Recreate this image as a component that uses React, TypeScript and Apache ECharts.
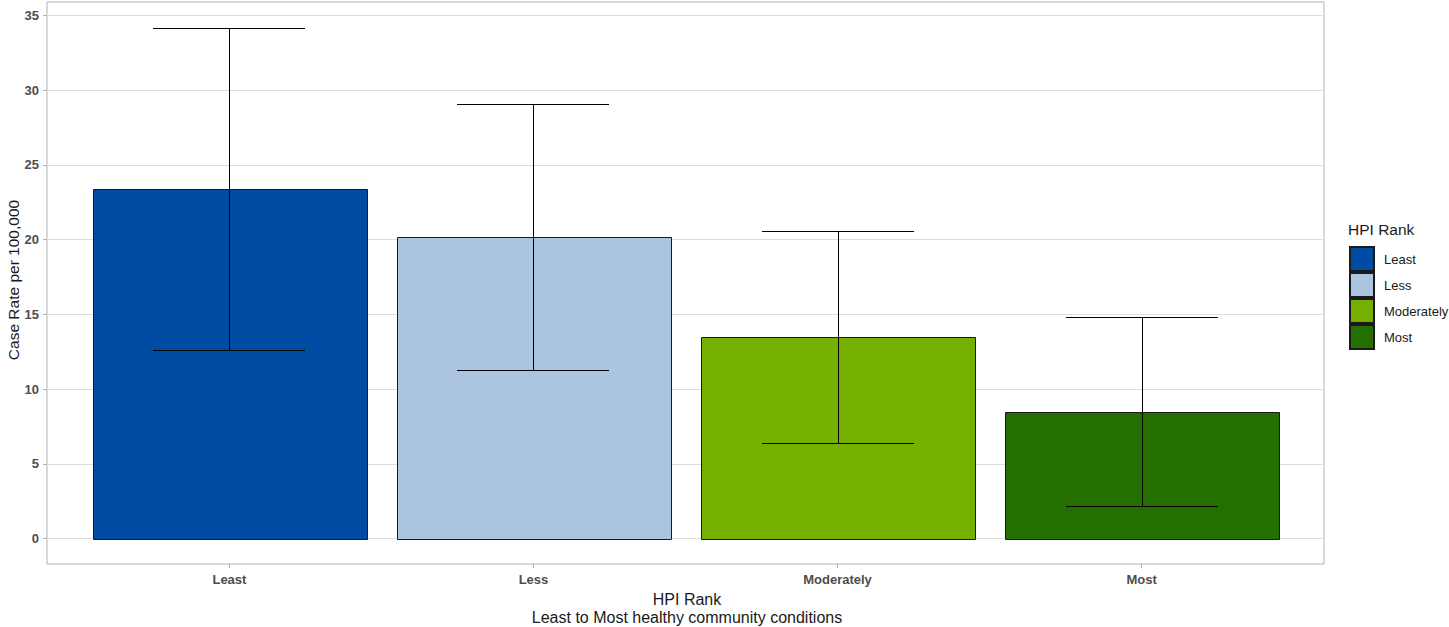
import React, { useEffect, useRef } from "react";
import * as echarts from "echarts";

const categories = ["Least", "Less", "Moderately", "Most"];
const caseRate = [23.4, 20.2, 13.5, 8.5];
const lowerCI = [12.6, 11.3, 6.4, 2.2];
const upperCI = [34.15, 29.05, 20.6, 14.8];
const colors = ["#004BA3", "#ABC5E0", "#75B000", "#237000"];
const yTicks = [0, 5, 10, 15, 20, 25, 30, 35];
const xTicks = [1, 2, 3, 4];

const FONT = "Liberation Sans, Arial, sans-serif";

export default function App() {
  const ref = useRef<HTMLDivElement>(null);
  useEffect(() => {
    if (!ref.current) return;
    const chart = echarts.init(ref.current, null, { renderer: "svg" });
    const series = categories.map((name, i) => ({
      type: "custom",
      name,
      itemStyle: { color: colors[i], borderColor: "#1a1a1a", borderWidth: 1 },
      encode: { x: 0, y: 1 },
      data: [[i + 1, caseRate[i], lowerCI[i], upperCI[i]]],
      renderItem: (params: any, api: any) => {
        const x = api.value(0);
        const v = api.value(1);
        const lo = api.value(2);
        const hi = api.value(3);
        const base = api.coord([x, 0]);
        const top = api.coord([x, v]);
        const pLo = api.coord([x, lo]);
        const pHi = api.coord([x, hi]);
        const bw = api.size([0.9, 0])[0];
        const cw = api.size([0.5, 0])[0];
        const cx = Math.round(base[0]) + 0.5;
        return {
          type: "group",
          children: [
            {
              type: "rect",
              shape: { x: Math.round(base[0] - bw / 2) + 0.5, y: Math.round(top[1]) + 0.5, width: Math.round(bw), height: Math.round(base[1]) - Math.round(top[1]) },
              style: { fill: colors[i], stroke: "#1a1a1a", lineWidth: 1 },
            },
            {
              type: "line",
              shape: { x1: cx, y1: Math.round(pLo[1]) + 0.5, x2: cx, y2: Math.round(pHi[1]) + 0.5 },
              style: { stroke: "#000", lineWidth: 1 },
            },
            {
              type: "line",
              shape: { x1: Math.round(base[0] - cw / 2), y1: Math.round(pLo[1]) + 0.5, x2: Math.round(base[0] + cw / 2), y2: Math.round(pLo[1]) + 0.5 },
              style: { stroke: "#000", lineWidth: 1 },
            },
            {
              type: "line",
              shape: { x1: Math.round(base[0] - cw / 2), y1: Math.round(pHi[1]) + 0.5, x2: Math.round(base[0] + cw / 2), y2: Math.round(pHi[1]) + 0.5 },
              style: { stroke: "#000", lineWidth: 1 },
            },
          ],
        };
      },
    }));
    chart.setOption({
      animation: false,
      backgroundColor: "#ffffff",
      textStyle: { fontFamily: FONT },
      grid: {
        left: 47,
        top: 2,
        width: 1277,
        height: 562,
        show: true,
        borderColor: "#b3b3b3",
        borderWidth: 1,
        backgroundColor: "transparent",
      },
      xAxis: {
        type: "value",
        position: "bottom",
        min: 0.4,
        max: 4.6,
        axisLine: { show: false, onZero: false },
        splitLine: { show: false },
        axisTick: { show: true, inside: false, length: 4, lineStyle: { color: "#b3b3b3", width: 1 }, customValues: xTicks },
        axisLabel: {
          customValues: xTicks,
          formatter: (v: number) => categories[Math.round(v) - 1] ?? "",
          margin: 9,
          fontSize: 13,
          fontWeight: "bold",
          color: "#4d4d4d",
          fontFamily: FONT,
        },
      },
      yAxis: {
        type: "value",
        min: -1.7,
        max: 35.9,
        axisLine: { show: false, onZero: false },
        axisTick: { show: true, length: 4, lineStyle: { color: "#b3b3b3" }, customValues: yTicks },
        axisLabel: {
          customValues: yTicks,
          margin: 8,
          fontSize: 13,
          fontWeight: "bold",
          color: "#4d4d4d",
          fontFamily: FONT,
        },
        splitLine: { show: true, lineStyle: { color: "#dedede", width: 1 } },
      },
      legend: {
        orient: "vertical",
        left: 1349,
        top: 246,
        padding: 0,
        itemWidth: 24,
        itemHeight: 24,
        itemGap: 0,
        icon: "rect",
        data: categories,
        textStyle: { fontSize: 13, color: "#1a1a1a", padding: [0, 0, 0, 5], fontFamily: FONT },
      },
      graphic: [
        {
          type: "text",
          x: 1348,
          y: 229,
          style: { text: "HPI Rank", fontSize: 15.5, fill: "#1a1a1a", align: "left", verticalAlign: "middle", fontFamily: FONT },
        },
        {
          type: "text",
          x: 13,
          y: 280,
          rotation: Math.PI / 2,
          style: { text: "Case Rate per 100,000", fontSize: 15.5, fill: "#1a1a1a", align: "center", verticalAlign: "middle", fontFamily: FONT },
        },
        {
          type: "text",
          x: 687,
          y: 608,
          style: {
            text: "HPI Rank\nLeast to Most healthy community conditions",
            fontSize: 16,
            lineHeight: 18,
            fill: "#1a1a1a",
            align: "center",
            verticalAlign: "middle",
            fontFamily: FONT,
          },
        },
      ],
      series,
    });
    return () => chart.dispose();
  }, []);
  return <div ref={ref} style={{ position: "fixed", left: 0, top: 0, width: 1449, height: 627 }} />;
}
